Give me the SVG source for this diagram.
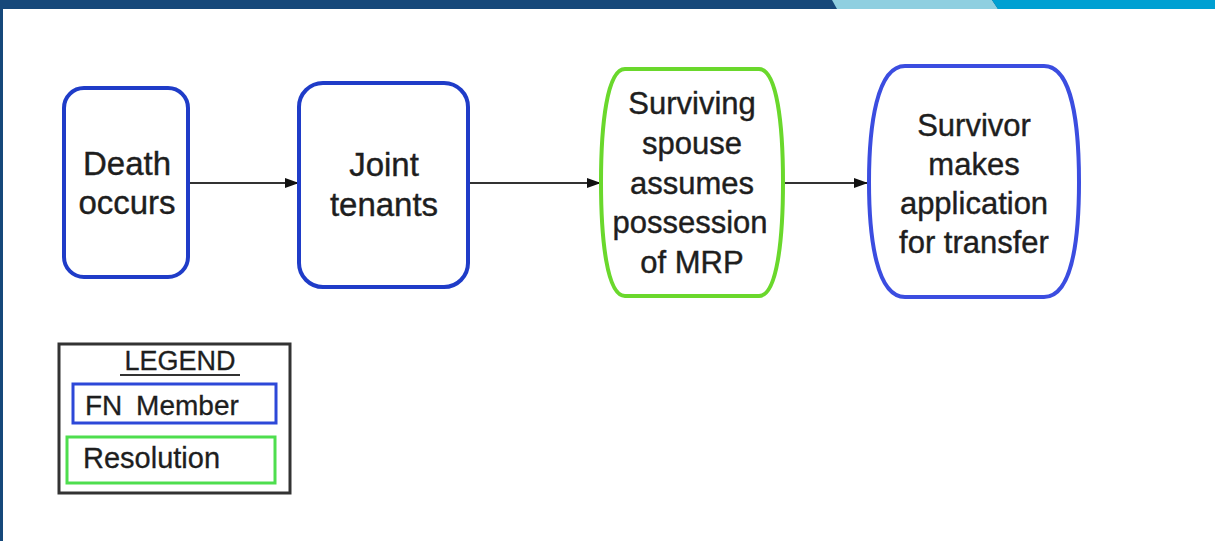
<svg xmlns="http://www.w3.org/2000/svg" width="1215" height="541" viewBox="0 0 1215 541">
<style>
.t{font-family:"Liberation Sans",Arial,sans-serif;font-size:31px;fill:#1e1e1e;stroke:#1e1e1e;stroke-width:0.4;text-anchor:middle}
.big{font-size:33px}
.lt{font-family:"Liberation Sans",Arial,sans-serif;font-size:28px;fill:#1e1e1e;stroke:#1e1e1e;stroke-width:0.3}
.blue{fill:#fff;stroke:#1f3cc8;stroke-width:4}
.green{fill:#fff;stroke:#6ad82c;stroke-width:4}
.conn{stroke:#333;stroke-width:2;fill:none}
</style>
<defs>
<marker id="ah" markerWidth="14" markerHeight="10" refX="13" refY="5" orient="auto" markerUnits="userSpaceOnUse">
<path d="M0,0 L14,5 L0,10 Z" fill="#111"/>
</marker>
</defs>
<rect width="1215" height="541" fill="#fff"/>
<g id="header">
<rect x="0" y="0" width="1215" height="9" fill="#16487a"/>
<polygon points="832,0 992,0 998,9 837,9" fill="#8fcfe0"/>
<polygon points="992,0 1215,0 1215,9 998,9" fill="#00a0d2"/>
<rect x="0" y="0" width="3" height="541" fill="#16487a"/>
</g>
<g id="connectors">
<line class="conn" x1="188" y1="183" x2="298" y2="183" marker-end="url(#ah)"/>
<line class="conn" x1="468" y1="183" x2="600" y2="183" marker-end="url(#ah)"/>
<line class="conn" x1="783" y1="183" x2="867" y2="183" marker-end="url(#ah)"/>
</g>
<g id="node-death">
<rect class="blue" x="64" y="88" width="124" height="189" rx="20" ry="20"/>
<text class="t big" x="127" y="175">Death</text>
<text class="t big" x="127" y="214">occurs</text>
</g>
<g id="node-joint">
<rect class="blue" x="299" y="83" width="169" height="204" rx="24" ry="24"/>
<text class="t big" x="384" y="176">Joint</text>
<text class="t big" x="384" y="216">tenants</text>
</g>
<g id="node-surviving">
<path class="green" d="M625,69 H759 C777,69 783,125 783,182 C783,240 777,296 759,296 H625 C607,296 601,240 601,182 C601,125 607,69 625,69 Z"/>
<text class="t" x="692" y="114">Surviving</text>
<text class="t" x="692" y="154">spouse</text>
<text class="t" x="692" y="194">assumes</text>
<text class="t" x="690" y="233">possession</text>
<text class="t" x="692" y="273">of MRP</text>
</g>
<g id="node-survivor">
<path class="blue" style="stroke:#3b4de0" d="M905,66 H1044 C1072,66 1079,125 1079,182 C1079,240 1072,297 1044,297 H905 C877,297 869,240 869,182 C869,125 877,66 905,66 Z"/>
<text class="t" x="974" y="136">Survivor</text>
<text class="t" x="974" y="175">makes</text>
<text class="t" x="974" y="214">application</text>
<text class="t" x="974" y="253">for transfer</text>
</g>
<g id="legend">
<rect x="59" y="344" width="231" height="149" fill="#fff" stroke="#333" stroke-width="3"/>
<text class="lt" x="180" y="370" text-anchor="middle" style="font-size:27px">LEGEND</text>
<line x1="120" y1="375" x2="240" y2="375" stroke="#333" stroke-width="2"/>
<g id="legend-fn">
<rect x="73" y="384" width="203" height="39" fill="#fff" stroke="#2d48d8" stroke-width="3"/>
<text class="lt" x="85" y="415" word-spacing="6">FN Member</text>
</g>
<g id="legend-res">
<rect x="67" y="437" width="208" height="46" fill="#fff" stroke="#4ede4e" stroke-width="3"/>
<text class="lt" x="83" y="468" style="font-size:29px">Resolution</text>
</g>
</g>
</svg>
